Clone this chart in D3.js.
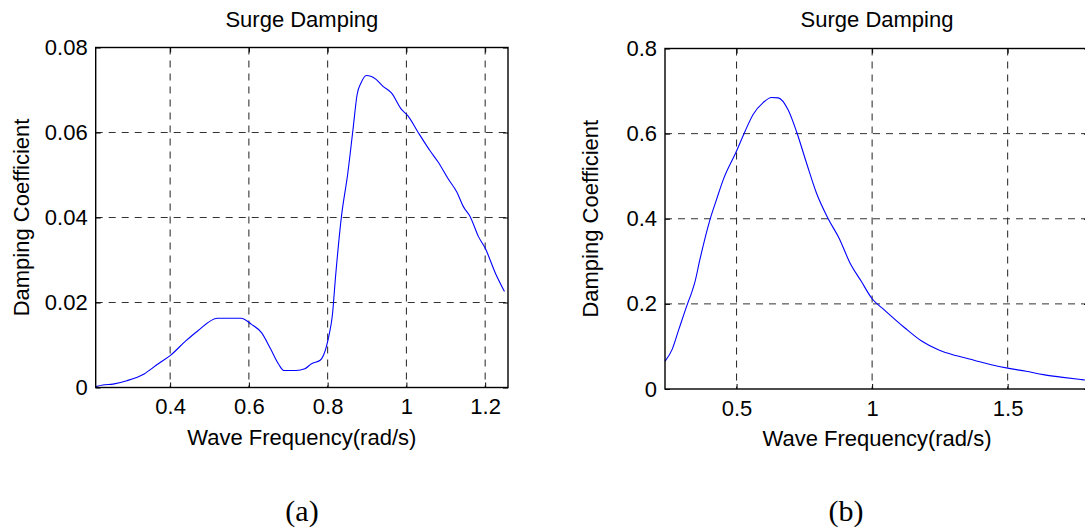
<!DOCTYPE html>
<html>
<head>
<meta charset="utf-8">
<script src="https://cdn.jsdelivr.net/npm/d3@7"></script>
<style>
  html, body { margin: 0; padding: 0; background: #fff; }
  svg { display: block; }
</style>
</head>
<body>
<div id="chart"></div>
<script>
// (a) surge damping, low range
const leftFreq = [0.211, 0.229, 0.255, 0.290, 0.334, 0.370, 0.400, 0.439, 0.470, 0.520, 0.580, 0.606, 0.632, 0.654, 0.676, 0.689, 0.720, 0.742, 0.759, 0.781, 0.790, 0.803, 0.812, 0.820, 0.835, 0.851, 0.864, 0.875, 0.885, 0.898, 0.911, 0.923, 0.940, 0.962, 0.987, 1.004, 1.030, 1.060, 1.081, 1.106, 1.128, 1.145, 1.162, 1.183, 1.200, 1.226, 1.249];
const leftDamp = [0.0002, 0.0006, 0.0008, 0.0016, 0.0032, 0.0056, 0.0075, 0.0109, 0.0133, 0.0163, 0.0163, 0.0149, 0.0129, 0.0093, 0.0054, 0.0040, 0.0040, 0.0044, 0.0056, 0.0064, 0.0077, 0.0121, 0.0170, 0.0260, 0.0402, 0.0503, 0.0604, 0.0690, 0.0717, 0.0734, 0.0732, 0.0725, 0.0709, 0.0693, 0.0655, 0.0639, 0.0600, 0.0557, 0.0530, 0.0491, 0.0460, 0.0425, 0.0402, 0.0355, 0.0328, 0.0269, 0.0226];
const leftXTicks = [0.4, 0.6, 0.8, 1, 1.2];
const leftYTicks = [0, 0.02, 0.04, 0.06, 0.08];

// (b) surge damping, wide range
const rightFreq = [0.236, 0.262, 0.287, 0.319, 0.334, 0.345, 0.365, 0.402, 0.426, 0.451, 0.500, 0.531, 0.561, 0.598, 0.629, 0.654, 0.690, 0.721, 0.758, 0.795, 0.838, 0.880, 0.917, 0.960, 1.000, 1.043, 1.120, 1.184, 1.248, 1.312, 1.376, 1.440, 1.500, 1.568, 1.632, 1.696, 1.773, 1.800];
const rightDamp = [0.065, 0.0925, 0.140, 0.200, 0.226, 0.248, 0.305, 0.398, 0.445, 0.492, 0.559, 0.605, 0.645, 0.673, 0.685, 0.684, 0.656, 0.605, 0.531, 0.460, 0.400, 0.352, 0.298, 0.253, 0.212, 0.187, 0.144, 0.112, 0.091, 0.078, 0.0675, 0.057, 0.049, 0.0416, 0.0337, 0.028, 0.022, 0.020];
const rightXTicks = [0.5, 1, 1.5];
const rightYTicks = [0, 0.2, 0.4, 0.6, 0.8];

const W = 1085, H = 531;
const font = "'Liberation Sans', Arial, sans-serif";

const svg = d3.select("#chart").append("svg")
  .attr("width", W)
  .attr("height", H);

function drawPanel(opt) {
  const { left, top, width, height } = opt.box;

  const x = d3.scaleLinear().domain(opt.xDomain).range([left, left + width]);
  const y = d3.scaleLinear().domain(opt.yDomain).range([top + height, top]);

  const g = svg.append("g");

  // grid
  g.selectAll(".vgrid")
    .data(opt.xTicks)
    .join("line")
    .attr("x1", d => x(d)).attr("x2", d => x(d))
    .attr("y1", top).attr("y2", top + height)
    .attr("stroke", "#222")
    .attr("stroke-width", 1)
    .attr("stroke-dasharray", "7,6");

  g.selectAll(".hgrid")
    .data(opt.yTicks.filter(d => d > opt.yDomain[0] && d < opt.yDomain[1]))
    .join("line")
    .attr("x1", left).attr("x2", left + width)
    .attr("y1", d => y(d)).attr("y2", d => y(d))
    .attr("stroke", "#333")
    .attr("stroke-width", 1)
    .attr("stroke-dasharray", "7,6");

  // curve
  const line = d3.line()
    .x(d => x(d[0]))
    .y(d => y(d[1]))
    .curve(d3.curveMonotoneX);

  g.append("path")
    .datum(d3.zip(opt.xs, opt.ys))
    .attr("fill", "none")
    .attr("stroke", "#0000ff")
    .attr("stroke-width", 1.1)
    .attr("d", line);

  // axes with inward ticks
  g.append("g")
    .attr("transform", `translate(0,${top + height})`)
    .call(d3.axisBottom(x).tickValues(opt.xTicks).tickSize(-5).tickPadding(11).tickFormat(d => String(d)));

  g.append("g")
    .attr("transform", `translate(${left},0)`)
    .call(d3.axisLeft(y).tickValues(opt.yTicks).tickSize(-5).tickPadding(8).tickFormat(d => String(d)));

  g.append("g")
    .attr("transform", `translate(0,${top})`)
    .call(d3.axisTop(x).tickValues(opt.xTicks).tickSize(-5).tickFormat(""));

  g.append("g")
    .attr("transform", `translate(${left + width},0)`)
    .call(d3.axisRight(y).tickValues(opt.yTicks).tickSize(-5).tickFormat(""));

  g.selectAll(".domain").remove();
  g.selectAll(".tick line").attr("stroke", "#000").attr("stroke-width", 1);
  g.selectAll(".tick text")
    .attr("fill", "#000")
    .style("font-family", font)
    .style("font-size", "22px");

  // box
  g.append("rect")
    .attr("x", left).attr("y", top)
    .attr("width", width).attr("height", height)
    .attr("fill", "none")
    .attr("stroke", "#000")
    .attr("stroke-width", 1.4);

  // title
  g.append("text")
    .attr("x", left + width / 2)
    .attr("y", 27)
    .attr("text-anchor", "middle")
    .style("font-family", font)
    .style("font-size", "22px")
    .text("Surge Damping");

  // x label
  g.append("text")
    .attr("x", left + width / 2)
    .attr("y", top + height + 57)
    .attr("text-anchor", "middle")
    .style("font-family", font)
    .style("font-size", "22px")
    .text("Wave Frequency(rad/s)");

  // y label
  g.append("text")
    .attr("transform", `translate(${left - 67},${top + height / 2}) rotate(-90)`)
    .attr("text-anchor", "middle")
    .style("font-family", font)
    .style("font-size", "22px")
    .text("Damping Coefficient");

  // caption
  g.append("text")
    .attr("x", opt.captionX)
    .attr("y", 521)
    .attr("text-anchor", "middle")
    .style("font-family", "'Liberation Serif', 'Times New Roman', serif")
    .style("font-size", "30px")
    .text(opt.caption);
}

drawPanel({
  box: { left: 95.7, top: 47.5, width: 412.3, height: 340 },
  xDomain: [0.211, 1.258],
  yDomain: [0, 0.08],
  xTicks: leftXTicks,
  yTicks: leftYTicks,
  xs: leftFreq,
  ys: leftDamp,
  caption: "(a)",
  captionX: 302
});

drawPanel({
  box: { left: 665, top: 48.5, width: 424, height: 340.5 },
  xDomain: [0.236, 1.8],
  yDomain: [0, 0.8],
  xTicks: rightXTicks,
  yTicks: rightYTicks,
  xs: rightFreq,
  ys: rightDamp,
  caption: "(b)",
  captionX: 846
});
</script>
</body>
</html>
